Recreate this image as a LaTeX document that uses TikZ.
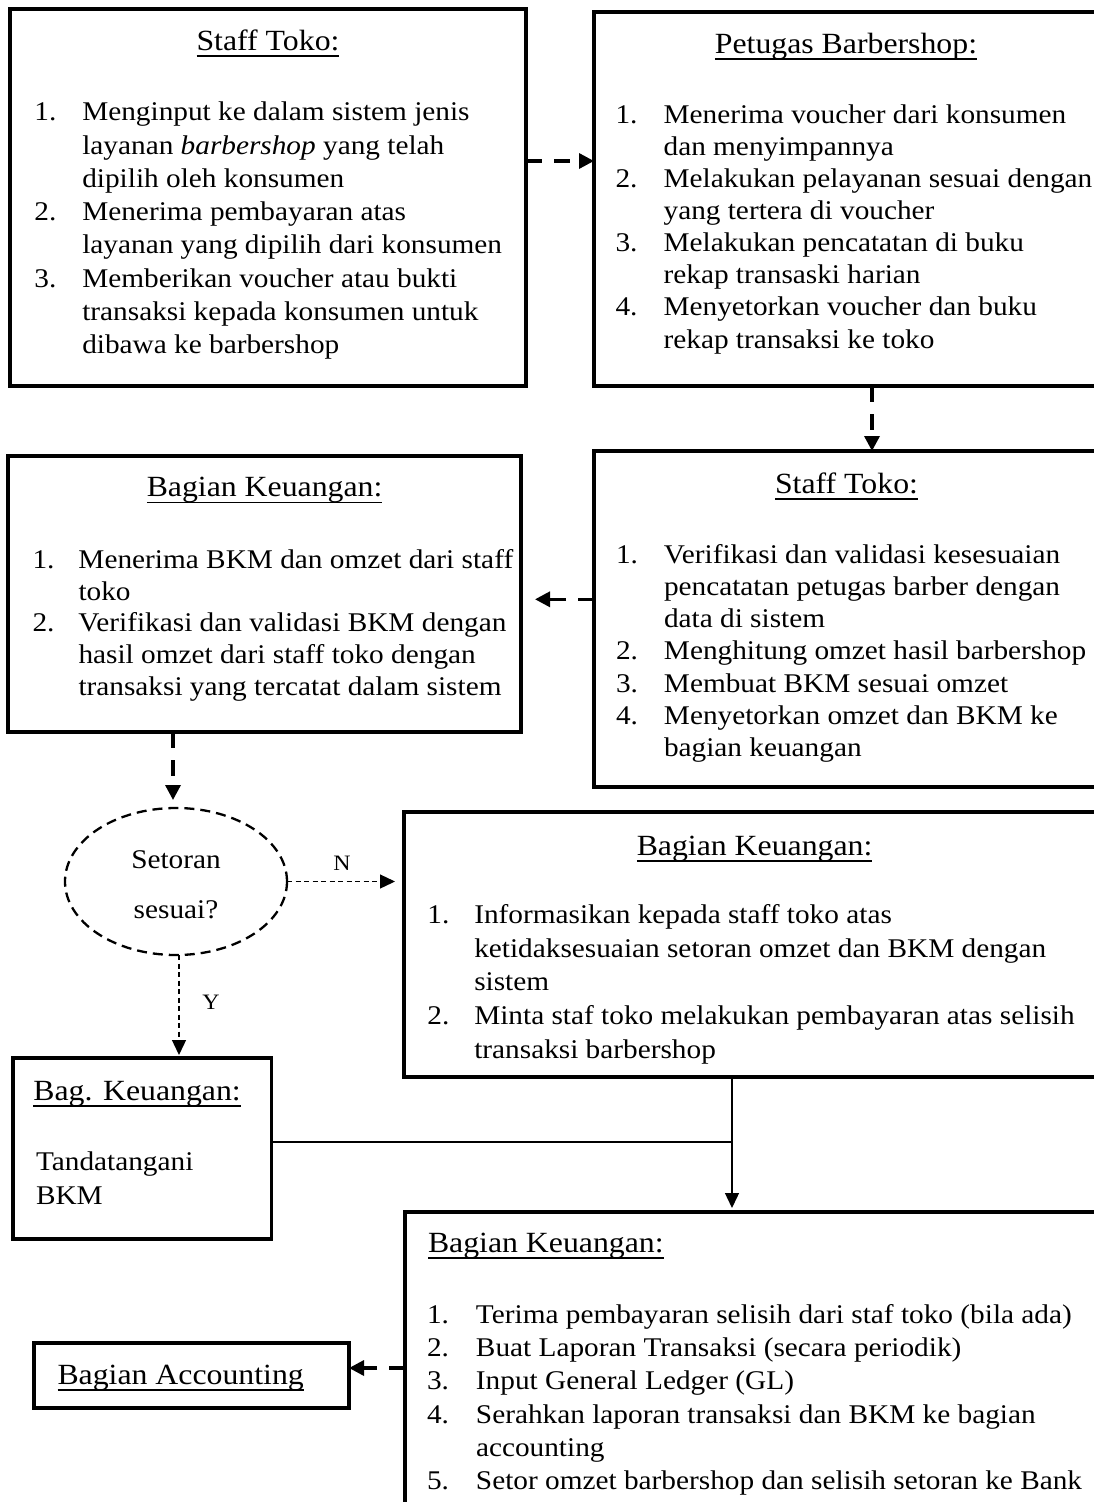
\documentclass[tikz,border=0pt]{standalone}
\usepackage{fontspec}
\setmainfont{Liberation Serif}[FakeStretch=1.085]
\usetikzlibrary{arrows.meta,calc,shapes.geometric}

% underlined heading, rule crossing the descenders as in a word processor
\newsavebox\headbox
\newcommand\headline[1]{\sbox\headbox{#1}\rlap{\rule[-6.6pt]{\wd\headbox}{1.8pt}}\usebox\headbox}
% numbered list with a fixed number column and a given line pitch
\newcommand\steplist[3]{{\fontsize{27pt}{#1}\selectfont
  \begin{tabular}[t]{@{}p{#2}@{}l@{}}#3\end{tabular}}}
\newcommand\headsize{\fontsize{29.3pt}{34pt}\selectfont}
\newcommand\bodysize{\fontsize{27pt}{33pt}\selectfont}
\newcommand\labelsize{\fontsize{22pt}{26pt}\selectfont}

\begin{document}
\begin{tikzpicture}[x=1pt,y=-1pt,
  box/.style={draw, line width=3.3pt, rectangle, inner sep=0pt, outer sep=0pt, anchor=north west},
  head/.style={inner sep=0pt, outer sep=0pt, anchor=base, font=\headsize},
  headleft/.style={inner sep=0pt, outer sep=0pt, anchor=base west, font=\headsize},
  body/.style={inner sep=0pt, outer sep=0pt, anchor=base west, font=\bodysize},
  flowthick/.style={line width=3.3pt, dash pattern=on 16pt off 12pt, -{Triangle[length=15pt,width=15pt]}},
  flowthin/.style={line width=1.3pt, dash pattern=on 5pt off 3.5pt, -{Triangle[length=15pt,width=14pt]}},
  flowsolid/.style={line width=1.3pt, -{Triangle[length=15pt,width=14pt]}},
  joinline/.style={line width=1.3pt},
  decision/.style={ellipse, draw, line width=2.3pt, dash pattern=on 10pt off 6pt,
    minimum width=222pt, minimum height=147pt, inner sep=0pt, outer sep=0pt},
  lbl/.style={inner sep=0pt, anchor=base, font=\labelsize}]

\useasboundingbox[fill=white] (0,0) rectangle (1094,1502);

% ---------- boxes ----------
\node[box, minimum width=516pt, minimum height=377pt] (b1) at (10,9) {};
\node[box, minimum width=506pt, minimum height=374pt] (b2) at (594,12) {};
\node[box, minimum width=506pt, minimum height=336pt] (b3) at (594,451) {};
\node[box, minimum width=513pt, minimum height=276pt] (b4) at (8,456) {};
\node[box, minimum width=701pt, minimum height=265pt] (b5) at (404,812) {};
\node[box, minimum width=258.5pt, minimum height=181pt] (b6) at (13,1058) {};
\node[box, minimum width=705pt, minimum height=350pt] (b7) at (405,1212) {};
\node[box, minimum width=315pt, minimum height=65pt] (b8) at (34,1343) {};
\node[decision] (dec) at (176,881.5) {};

% ---------- box 1 ----------
\node[head] (b1h) at (268,50) {\headline{Staff Toko:}};
\node[body] (b1l) at (34.4,120.7) {\steplist{33.3pt}{47.9pt}{%
1. & Menginput ke dalam sistem jenis\\
   & layanan \textit{barbershop} yang telah\\
   & dipilih oleh konsumen\\
2. & Menerima pembayaran atas\\
   & layanan yang dipilih dari konsumen\\
3. & Memberikan voucher atau bukti\\
   & transaksi kepada konsumen untuk\\
   & dibawa ke barbershop}};

% ---------- box 2 ----------
\node[head] (b2h) at (846,53) {\headline{Petugas Barbershop:}};
\node[body] (b2l) at (615.5,123.3) {\steplist{32.1pt}{48.1pt}{%
1. & Menerima voucher dari konsumen\\
   & dan menyimpannya\\
2. & Melakukan pelayanan sesuai dengan\\
   & yang tertera di voucher\\
3. & Melakukan pencatatan di buku\\
   & rekap transaski harian\\
4. & Menyetorkan voucher dan buku\\
   & rekap transaksi ke toko}};

% ---------- box 3 ----------
\node[head] (b3h) at (846.5,493) {\headline{Staff Toko:}};
\node[body] (b3l) at (616,563.3) {\steplist{32.2pt}{48pt}{%
1. & Verifikasi dan validasi kesesuaian\\
   & pencatatan petugas barber dengan\\
   & data di sistem\\
2. & Menghitung omzet hasil barbershop\\
3. & Membuat BKM sesuai omzet\\
4. & Menyetorkan omzet dan BKM ke\\
   & bagian keuangan}};

% ---------- box 4 ----------
\node[head] (b4h) at (264.6,496.7) {\headline{Bagian Keuangan:}};
\node[body] (b4l) at (32.5,568.3) {\steplist{31.7pt}{46pt}{%
1. & Menerima BKM dan omzet dari staff\\
   & toko\\
2. & Verifikasi dan validasi BKM dengan\\
   & hasil omzet dari staff toko dengan\\
   & transaksi yang tercatat dalam sistem}};

% ---------- decision ----------
\node[body, anchor=base] (decA) at (176,868) {Setoran};
\node[body, anchor=base] (decB) at (176,918) {sesuai?};

% ---------- box 5 ----------
\node[head] (b5h) at (754.6,855) {\headline{Bagian Keuangan:}};
\node[body] (b5l) at (427.4,923.3) {\steplist{33.75pt}{46.9pt}{%
1. & Informasikan kepada staff toko atas\\
   & ketidaksesuaian setoran omzet dan BKM dengan\\
   & sistem\\
2. & Minta staf toko melakukan pembayaran atas selisih\\
   & transaksi barbershop}};

% ---------- box 6 ----------
\node[headleft] (b6h) at (33.3,1100) {\headline{Bag. Keuangan:}};
\node[body] (b6a) at (36,1170) {Tandatangani};
\node[body] (b6b) at (36,1204) {BKM};

% ---------- box 7 ----------
\node[headleft] (b7h) at (428,1252) {\headline{Bagian Keuangan:}};
\node[body] (b7l) at (427,1323.3) {\steplist{33.3pt}{49pt}{%
1. & Terima pembayaran selisih dari staf toko (bila ada)\\
2. & Buat Laporan Transaksi (secara periodik)\\
3. & Input General Ledger (GL)\\
4. & Serahkan laporan transaksi dan BKM ke bagian\\
   & accounting\\
5. & Setor omzet barbershop dan selisih setoran ke Bank}};

% ---------- box 8 ----------
\node[headleft] (b8h) at (57.5,1384) {\headline{Bagian Accounting}};

% ---------- connectors ----------
\draw[flowthick] (b1.east |- 0,161) -- (b2.west |- 0,161);
\draw[flowthick] (b2.south -| 872,0) -- (b3.north -| 872,0);
\draw[flowthick] (b3.west |- 0,599.3) -- ($(b4.east |- 0,599.3)+(14,0)$);
\draw[flowthick] (b4.south -| 173,0) -- ($(dec.north -| 173,0)+(0,-8)$);
\draw[flowthin] (dec.east) -- ($(b5.west |- dec.east)+(-9,0)$);
\node[lbl] (lblN) at (342,870) {N};
\draw[flowthin] (dec.south -| 179,0) -- ($(b6.north -| 179,0)+(0,-3)$);
\node[lbl] (lblY) at (211,1009) {Y};
\coordinate (joint) at (732,1142);
\draw[flowsolid] (b5.south -| joint) -- ($(b7.north -| joint)+(0,-4)$);
\draw[joinline] (b6.east |- joint) -- (joint);
\draw[flowthick] (b7.west |- 0,1368) -- (b8.east |- 0,1368);
\end{tikzpicture}
\end{document}
